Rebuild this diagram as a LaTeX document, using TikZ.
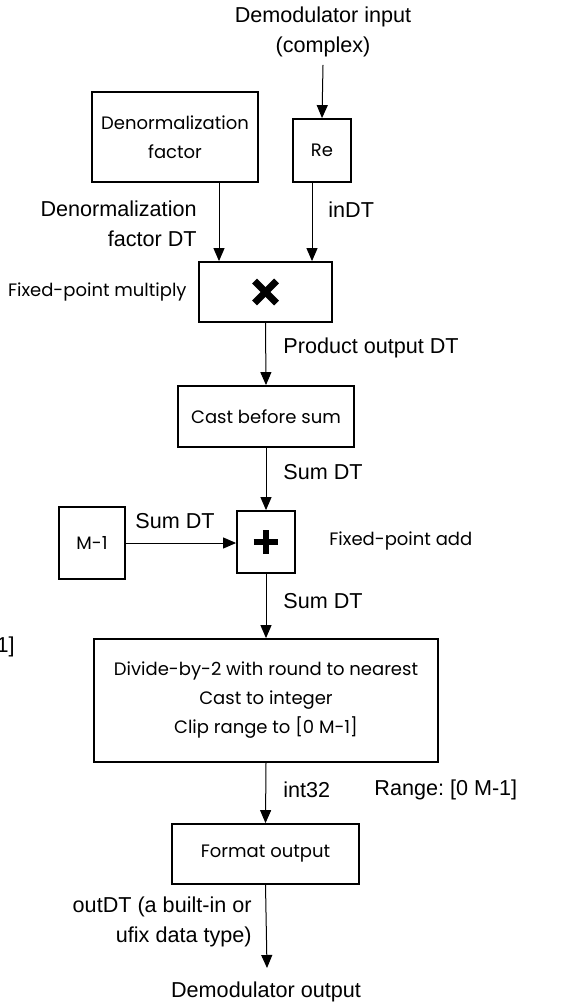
\documentclass[tikz,border=0pt]{standalone}
\usepackage{fontspec}
\setmainfont{Liberation Sans}
\newfontfamily\boxfont{Poppins}
\usetikzlibrary{arrows.meta}
\frenchspacing

\tikzset{
  blk/.style={draw, line width=0.9pt, inner sep=0pt, font=\boxfont\fontsize{9}{14.5}\selectfont, align=center},
  lbl/.style={inner sep=0pt, font=\fontsize{10.8}{15}\selectfont},
  flbl/.style={inner sep=0pt, font=\boxfont\fontsize{9}{14.5}\selectfont},
  arr/.style={line width=0.5pt, -{Triangle[length=6.5pt, width=5.5pt]}},
  symline/.style={line width=3.4pt}
}

\begin{document}
\begin{tikzpicture}[x=0.5pt, y=-0.5pt]
  \useasboundingbox (0,0) rectangle (581,1005);

  % blocks
  \node[blk, minimum width=83pt, minimum height=45pt] (denorm) at (175,137) {Denormalization\\factor};
  \node[blk, minimum width=29pt, minimum height=31.5pt] (re) at (322,150.5) {Re};
  \node[blk, minimum width=66.5pt, minimum height=30pt] (mult) at (265.5,292) {};
  \node[blk, minimum width=88pt, minimum height=30.5pt] (cast) at (266,416.5) {Cast before sum};
  \node[blk, minimum width=29pt, minimum height=31pt] (add) at (266,542) {};
  \node[blk, minimum width=33pt, minimum height=36pt] (mone) at (92,543) {M-1};
  \node[blk, minimum width=172pt, minimum height=61.5pt] (divide) at (266,700.5) {Divide-by-2 with round to nearest\\Cast to integer\\Clip range to [0 M-1]};
  \node[blk, minimum width=93.5pt, minimum height=30pt] (fmt) at (265.5,854) {Format output};

  % operator symbols
  \draw[symline] ([shift={(-5.5pt,-5.5pt)}]mult.center) -- ([shift={(5.5pt,5.5pt)}]mult.center);
  \draw[symline] ([shift={(-5.5pt,5.5pt)}]mult.center) -- ([shift={(5.5pt,-5.5pt)}]mult.center);
  \draw[line width=3pt] ([xshift=-6.2pt]add.center) -- ([xshift=6.2pt]add.center);
  \draw[line width=3pt] ([yshift=-6pt]add.center) -- ([yshift=6pt]add.center);

  % free ends
  \coordinate (inStart) at (323,65);
  \coordinate (outEnd) at (267,968);

  % connectors
  \draw[arr] (inStart) -- (re.north);
  \draw[arr] ([xshift=22pt]denorm.south) -- ([xshift=22pt]denorm.south |- mult.north);
  \draw[arr] ([xshift=-5pt]re.south) -- ([xshift=-5pt]re.south |- mult.north);
  \draw[arr] (mult.south) -- (cast.north);
  \draw[arr] (cast.south) -- (add.north);
  \draw[arr] (mone.east) -- (mone.east -| add.west);
  \draw[arr] (add.south) -- (divide.north);
  \draw[arr] (divide.south) -- (fmt.north);
  \draw[arr] (fmt.south) -- (outEnd);

  % labels
  \node[lbl, align=center] (inLbl) at (323,32) {Demodulator input\\(complex)};
  \node[lbl, anchor=east, align=right] (denormLbl) at (197,224) {Denormalization\\factor DT};
  \node[lbl, anchor=west] (inDT) at (328,210) {inDT};
  \node[flbl, anchor=east] (multLbl) at (187,292) {Fixed-point multiply};
  \node[lbl, anchor=west] (prodLbl) at (283,348) {Product output DT};
  \node[lbl, anchor=west] (sumLbl1) at (283,472) {Sum DT};
  \node[lbl] (sumLbl2) at (175,521) {Sum DT};
  \node[flbl, anchor=west] (addLbl) at (329,541) {Fixed-point add};
  \node[lbl, anchor=west] (sumLbl3) at (283,601) {Sum DT};
  \node[lbl, anchor=east] (cutLbl) at (15,647) {1]};
  \node[lbl, anchor=west] (intLbl) at (283,790) {int32};
  \node[lbl, anchor=west] (rangeLbl) at (374,790) {Range: [0 M-1]};
  \node[lbl, anchor=east, align=right] (outDT) at (252,922) {outDT (a built-in or\\ufix data type)};
  \node[lbl] (outLbl) at (266,992) {Demodulator output};
\end{tikzpicture}
\end{document}
